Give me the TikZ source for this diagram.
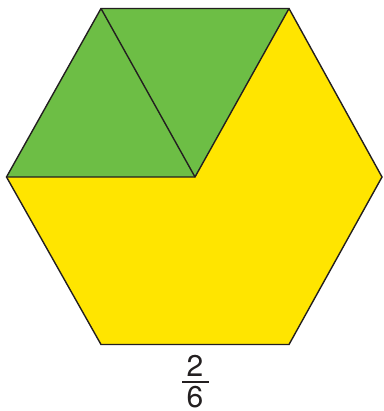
\documentclass[tikz,border=0pt]{standalone}
\usepackage{fontspec}
\setmainfont{TeX Gyre Heros}
\definecolor{pgreen}{HTML}{6DBE45}
\definecolor{pyellow}{HTML}{FFE500}
\definecolor{pline}{HTML}{231F20}
\begin{document}
\begin{tikzpicture}[x=1pt,y=-1pt,
  piece/.style={draw=pline,line width=1.4pt,line join=miter},
  digit/.style={inner sep=0pt,font=\fontsize{30}{30}\selectfont,text=pline}]
\useasboundingbox (0,0) rectangle (383,411);
\coordinate (TL) at (101,8.5);
\coordinate (TR) at (289,8.5);
\coordinate (R) at (382,177);
\coordinate (BR) at (289,344.5);
\coordinate (BL) at (101,344.5);
\coordinate (L) at (6.5,177);
\coordinate (C) at (195,177);
\fill[pyellow] (L) -- (C) -- (TR) -- (R) -- (BR) -- (BL) -- cycle;
\fill[pgreen] (L) -- (TL) -- (TR) -- (C) -- cycle;
\draw[piece] (L) -- (TL) -- (TR) -- (R) -- (BR) -- (BL) -- cycle;
\draw[piece] (L) -- (C) -- (TR);
\draw[piece] (TL) -- (C);
\node[digit] (num) at (195,366) {2};
\node[digit] (den) at (195,397.5) {6};
\coordinate (barL) at (182,382);
\coordinate (barR) at (209,382);
\draw[pline,line width=1.2pt] (barL) -- (barR);
\end{tikzpicture}
\end{document}
